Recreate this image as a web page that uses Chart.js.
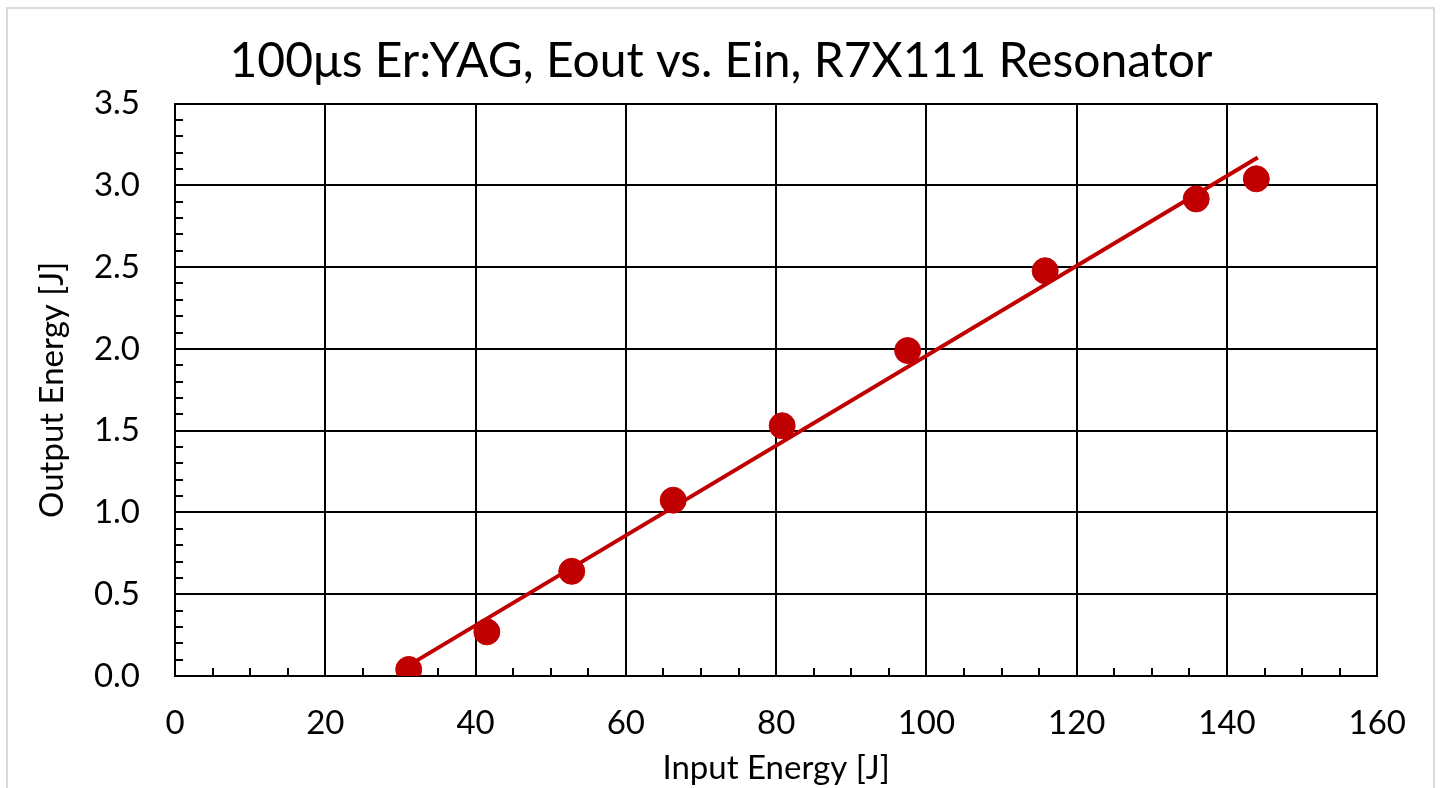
<!DOCTYPE html>
<html>
<head>
<meta charset="utf-8">
<script src="https://cdn.jsdelivr.net/npm/chart.js@4.4.1/dist/chart.umd.min.js"></script>
<style>
  html, body { margin: 0; padding: 0; background: #fff; overflow: hidden; }
  #wrap { position: relative; width: 1442px; height: 788px; }
  #frame { position: absolute; left: 6px; top: 7px; width: 1429px; height: 800px;
           border: 2px solid #d9d9d9; box-sizing: border-box; pointer-events: none; }
  canvas { position: absolute; left: 0; top: 0; }
</style>
</head>
<body>
<div id="wrap">
  <canvas id="c" width="1442" height="788"></canvas>
  <div id="frame"></div>
</div>
<script>
const inputEnergy = [31.1, 41.5, 52.8, 66.3, 80.8, 97.5, 115.8, 135.9, 143.9];
const outputEnergy = [0.04, 0.27, 0.64, 1.075, 1.53, 1.99, 2.478, 2.917, 3.04];
const trendX = [31.1, 144.1];
const trendY = [0.065, 3.17];
const xTickMajor = [0, 20, 40, 60, 80, 100, 120, 140, 160];
const yTickMajor = [0.0, 0.5, 1.0, 1.5, 2.0, 2.5, 3.0, 3.5];

const RED = '#C00000';
const FONT = 'Lato, "Open Sans", sans-serif';

const isMajorX = v => xTickMajor.some(m => Math.abs(m - v) < 1e-6);
const isMajorY = v => yTickMajor.some(m => Math.abs(m - v) < 1e-6);

new Chart(document.getElementById('c'), {
  data: {
    datasets: [
      {
        type: 'scatter',
        label: 'Eout',
        data: inputEnergy.map((x, i) => ({ x, y: outputEnergy[i] })),
        backgroundColor: RED,
        borderColor: RED,
        pointRadius: 13,
        pointHoverRadius: 13,
        order: 1
      },
      {
        type: 'line',
        label: 'Linear fit',
        data: trendX.map((x, i) => ({ x, y: trendY[i] })),
        borderColor: RED,
        borderWidth: 4,
        pointRadius: 0,
        fill: false,
        order: 2
      }
    ]
  },
  options: {
    responsive: false,
    animation: false,
    devicePixelRatio: 1,
    layout: { padding: { left: 0, right: 0, top: 0, bottom: 0 } },
    plugins: {
      legend: { display: false },
      tooltip: { enabled: false },
      title: {
        display: true,
        text: '100μs Er:YAG, Eout vs. Ein, R7X111 Resonator',
        color: '#000',
        font: { family: FONT, size: 48, weight: 'normal' },
        padding: { top: 33, bottom: 13 }
      }
    },
    scales: {
      x: {
        type: 'linear',
        min: 0, max: 160,
        afterFit: s => { s.height = 112; },
        ticks: {
          stepSize: 5,
          autoSkip: false,
          maxRotation: 0,
          color: '#000',
          font: { family: FONT, size: 33 },
          padding: 36,
          callback: v => isMajorX(v) ? String(Math.round(v)) : ''
        },
        grid: {
          color: ctx => isMajorX(ctx.tick.value) ? '#000' : 'rgba(0,0,0,0)',
          lineWidth: 2,
          tickColor: '#000',
          tickWidth: 2,
          tickLength: -8,
          drawTicks: true
        },
        border: { color: '#000', width: 2 },
        title: {
          display: true,
          text: 'Input Energy [J]',
          color: '#000',
          font: { family: FONT, size: 33 },
          padding: { top: 0, bottom: 0 }
        }
      },
      y: {
        type: 'linear',
        min: 0, max: 3.5,
        afterFit: s => { s.width = 175; },
        ticks: {
          stepSize: 0.1,
          autoSkip: false,
          color: '#000',
          font: { family: FONT, size: 33 },
          padding: 43,
          callback: v => isMajorY(v) ? v.toFixed(1) : ''
        },
        grid: {
          color: ctx => isMajorY(ctx.tick.value) ? '#000' : 'rgba(0,0,0,0)',
          lineWidth: 2,
          tickColor: '#000',
          tickWidth: 2,
          tickLength: -8,
          drawTicks: true
        },
        border: { color: '#000', width: 2 },
        title: {
          display: true,
          text: 'Output Energy [J]',
          color: '#000',
          font: { family: FONT, size: 33 },
          padding: { top: 33, bottom: 0 }
        }
      },
      spacer: {
        type: 'linear',
        position: 'right',
        min: 0, max: 1,
        afterFit: s => { s.width = 61; },
        ticks: { display: false },
        grid: { display: false, drawOnChartArea: false },
        border: { display: false },
        title: { display: false }
      }
    }
  }
});
</script>
</body>
</html>
